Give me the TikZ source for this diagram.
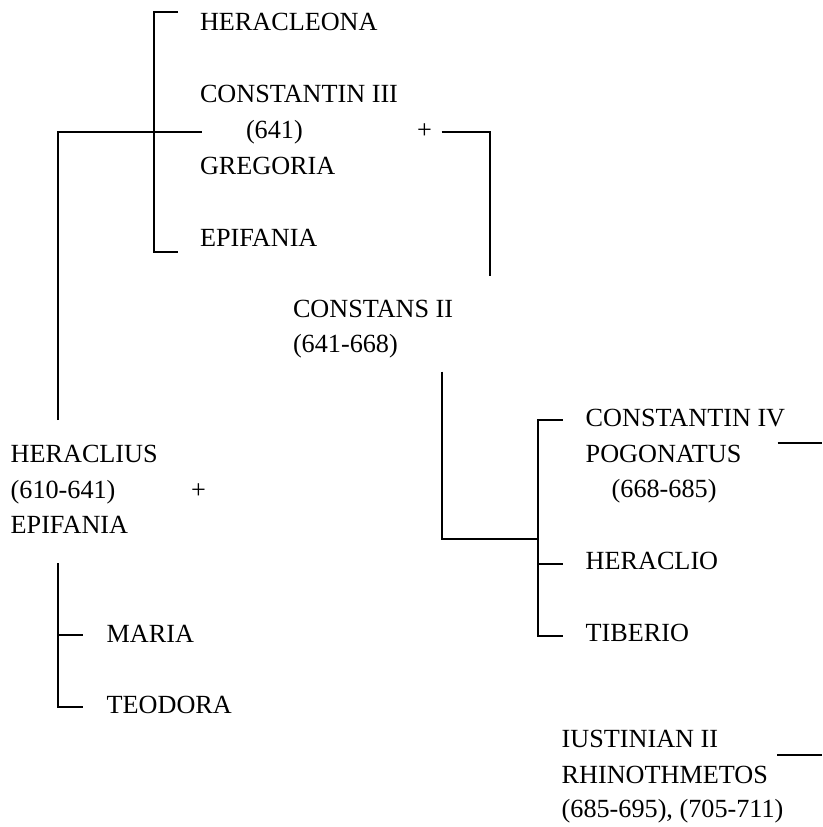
\documentclass[tikz,border=0pt]{standalone}
\usepackage{fontspec}
\setmainfont{Liberation Serif}
\begin{document}
\begin{tikzpicture}[x=1pt,y=-1pt,
  lbl/.style={anchor=base west,inner sep=0pt,outer sep=0pt,font=\fontsize{26.2}{30}\selectfont},
  ln/.style={line width=1.9pt,line cap=butt,line join=miter}]
\useasboundingbox (0,0) rectangle (822,827);
% texts
\node[lbl] (heracleona) at (200,30) {HERACLEONA};
\node[lbl] (const3) at (200,102) {CONSTANTIN III};
\node[lbl] (const3d) at (246,138) {(641)};
\node[lbl] (plusA) at (417,138) {+};
\node[lbl] (gregoria) at (200,174) {GREGORIA};
\node[lbl] (epifaniaA) at (200,246) {EPIFANIA};
\node[lbl] (constans) at (293,317) {CONSTANS II};
\node[lbl] (constansd) at (293,352) {(641-668)};
\node[lbl] (heraclius) at (10.7,462) {HERACLIUS};
\node[lbl] (heracliusd) at (10.7,498) {(610-641)};
\node[lbl] (plusB) at (191,498) {+};
\node[lbl] (epifaniaB) at (10.7,533) {EPIFANIA};
\node[lbl] (maria) at (106.7,642) {MARIA};
\node[lbl] (teodora) at (106.7,713) {TEODORA};
\node[lbl] (const4) at (585.7,426) {CONSTANTIN IV};
\node[lbl] (pogonatus) at (585.7,462) {POGONATUS};
\node[lbl] (const4d) at (611.7,497) {(668-685)};
\node[lbl] (heraclio) at (585.7,569.5) {HERACLIO};
\node[lbl] (tiberio) at (585.7,641) {TIBERIO};
\node[lbl] (iust) at (561.7,747) {IUSTINIAN II};
\node[lbl] (rhino) at (561.7,783) {RHINOTHMETOS};
\node[lbl] (iustd) at (561.7,817) {(685-695), (705-711)};
% coordinates
\coordinate (hA) at (58,131.7);
\coordinate (hB) at (58,420);
\coordinate (hC) at (202,131.7);
\coordinate (bT) at (154,12);
\coordinate (bTt) at (178,12);
\coordinate (bB) at (154,252);
\coordinate (bBt) at (178,252);
\coordinate (pA) at (441.7,131.7);
\coordinate (pB) at (490,131.7);
\coordinate (pC) at (490,276);
\coordinate (cA) at (441.7,371.7);
\coordinate (cB) at (441.7,539.3);
\coordinate (cC) at (537.7,539.3);
\coordinate (sT) at (537.7,420);
\coordinate (sTt) at (562.7,420);
\coordinate (sM) at (537.7,564);
\coordinate (sMt) at (562.7,564);
\coordinate (sB) at (537.7,636);
\coordinate (sBt) at (562.7,636);
\coordinate (gA) at (777.7,443.3);
\coordinate (gB) at (822,443.3);
\coordinate (iA) at (777.3,755);
\coordinate (iB) at (822,755);
\coordinate (dT) at (58,563.3);
\coordinate (dM) at (58,635);
\coordinate (dMt) at (82.7,635);
\coordinate (dB) at (58,707.3);
\coordinate (dBt) at (82.7,707.3);
% connectors
\draw[ln] (hB) -- (hA) -- (hC);
\draw[ln] (bTt) -- (bT) -- (bB) -- (bBt);
\draw[ln] (pA) -- (pB) -- (pC);
\draw[ln] (cA) -- (cB) -- (cC);
\draw[ln] (sTt) -- (sT) -- (sB) -- (sBt);
\draw[ln] (sM) -- (sMt);
\draw[ln] (gA) -- (gB);
\draw[ln] (iA) -- (iB);
\draw[ln] (dT) -- (dB) -- (dBt);
\draw[ln] (dM) -- (dMt);
\end{tikzpicture}
\end{document}
